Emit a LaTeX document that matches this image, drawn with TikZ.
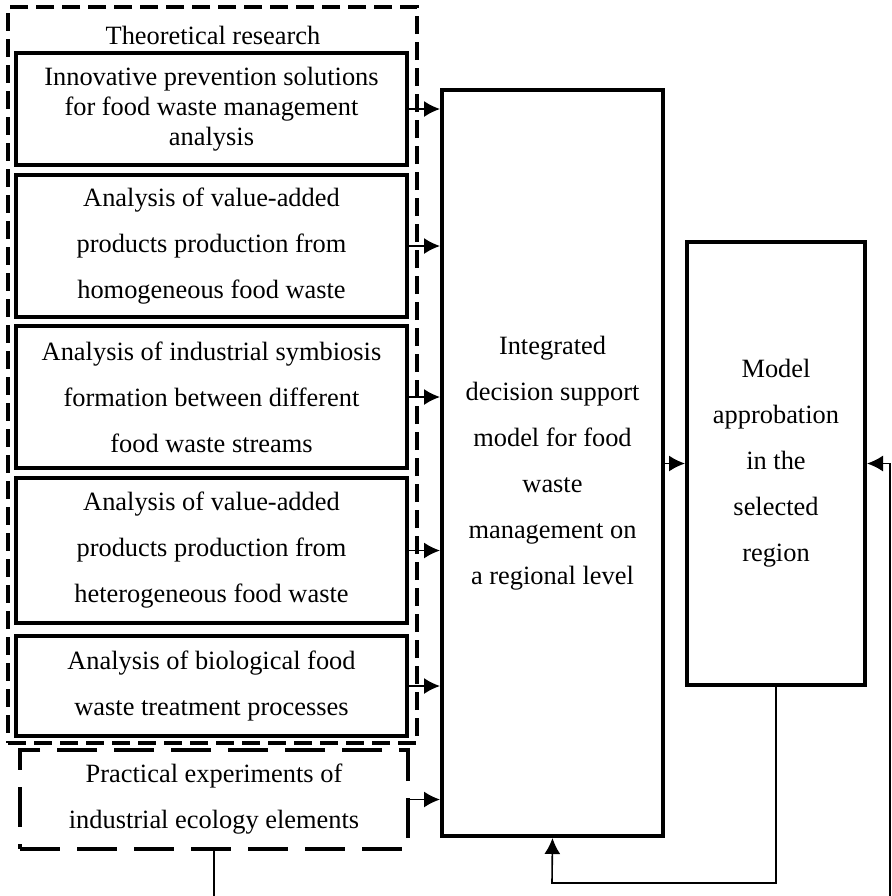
\documentclass[tikz,border=0pt]{standalone}
\usepackage{fontspec}
\setmainfont{Liberation Serif}
\usetikzlibrary{arrows.meta,positioning}

\tikzset{
  box/.style={draw, line width=2pt, align=center, inner sep=0pt,
    font=\fontsize{13.2}{23}\selectfont},
  outerbox/.style={draw, line width=2pt, dash pattern=on 9pt off 4pt},
  pracbox/.style={box, dash pattern=on 20pt off 8.5pt},
  conn/.style={line width=0.8pt, -{Latex[length=8pt,width=8pt]}},
  line/.style={line width=0.8pt}
}

\begin{document}
\begin{tikzpicture}[x=0.5pt,y=-0.5pt]
\useasboundingbox (0,0) rectangle (892,896);

\node[outerbox, minimum width=204.5pt, minimum height=368pt] (theory) at (212.5,375) {};
\node[font=\fontsize{13.2}{15}\selectfont] (theo) at (213,35) {Theoretical research};

\node[box, minimum width=195.5pt, minimum height=56pt,
  font=\fontsize{13.2}{15}\selectfont] (b1) at (211.5,109)
  {Innovative prevention solutions\\for food waste management\\analysis};
\node[box, minimum width=195.5pt, minimum height=71pt] (b2) at (211.5,246)
  {Analysis of value-added\\products production from\\homogeneous food waste};
\node[box, minimum width=195.5pt, minimum height=71pt] (b3) at (211.5,397)
  {Analysis of industrial symbiosis\\formation between different\\food waste streams};
\node[box, minimum width=195.5pt, minimum height=72.5pt] (b4) at (211.5,550.5)
  {Analysis of value-added\\products production from\\heterogeneous food waste};
\node[box, minimum width=195.5pt, minimum height=50pt] (b5) at (211.5,686)
  {Analysis of biological food\\waste treatment processes};
\node[pracbox, minimum width=194pt, minimum height=49.5pt] (prac) at (214,799.5)
  {Practical experiments of\\industrial ecology elements};

\node[box, minimum width=110.5pt, minimum height=373pt] (cen) at (552.5,463)
  {Integrated\\decision support\\model for food\\waste\\management on\\a regional level};
\node[box, minimum width=89pt, minimum height=221.5pt] (appr) at (776,463.5)
  {Model\\approbation\\in the\\selected\\region};

\foreach \b in {b1,b2,b3,b4,b5,prac}
  \draw[conn] (\b.east) -- (\b.east -| cen.west);
\draw[conn] (cen.east |- appr.west) -- (appr.west);

\coordinate (loop) at (552,883);
\draw[conn] (appr.south) |- (loop) -- (cen.south);
\coordinate (pend) at (214,896);
\draw[line] (prac.south) -- (pend);
\coordinate (rend) at (890,896);
\draw[conn] (rend) |- (appr.east);
\end{tikzpicture}
\end{document}
